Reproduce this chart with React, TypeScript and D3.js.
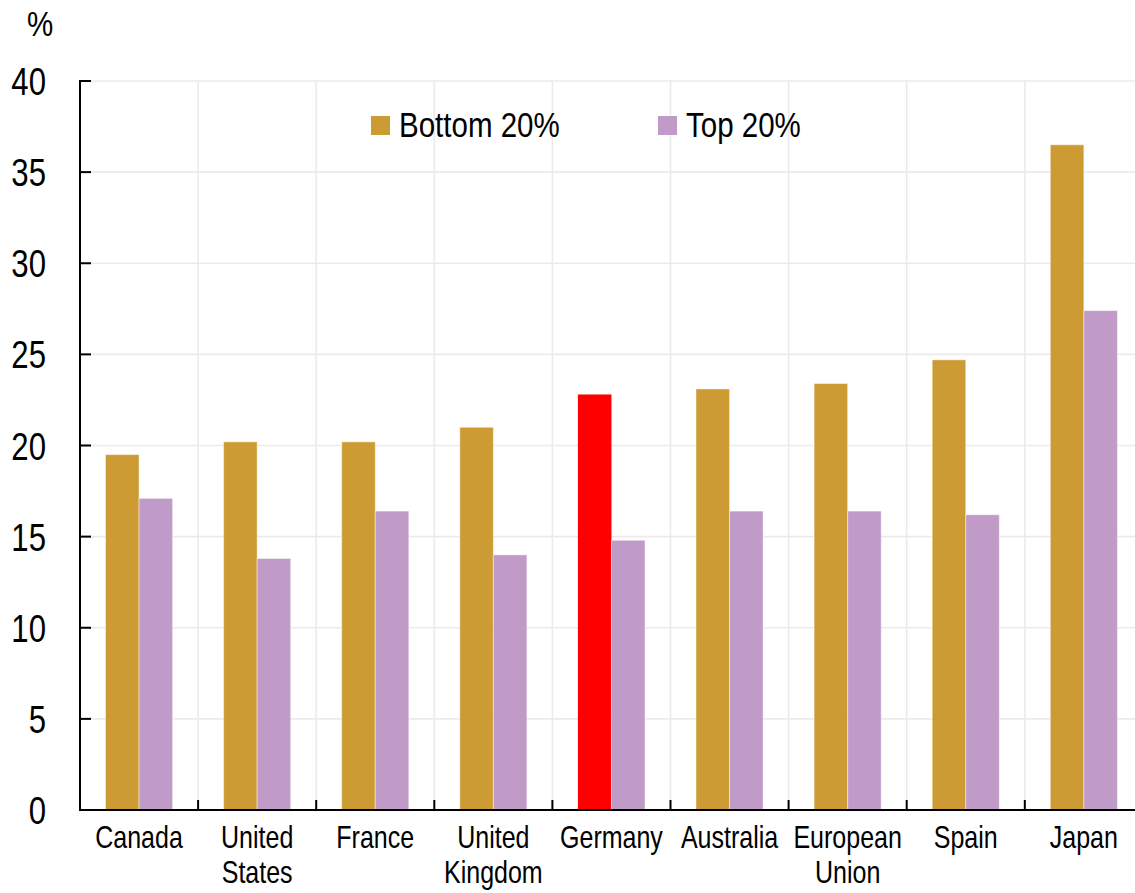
import React from "react";
import * as d3 from "d3";

const categories: string[][] = [
  ["Canada"],
  ["United", "States"],
  ["France"],
  ["United", "Kingdom"],
  ["Germany"],
  ["Australia"],
  ["European", "Union"],
  ["Spain"],
  ["Japan"],
];
const bottom20 = [19.5, 20.2, 20.2, 21.0, 22.8, 23.1, 23.4, 24.7, 36.5];
const top20 = [17.1, 13.8, 16.4, 14.0, 14.8, 16.4, 16.4, 16.2, 27.4];
const seriesNames = ["Bottom 20%", "Top 20%"];
const yTicks = [0, 5, 10, 15, 20, 25, 30, 35, 40];
const highlight = "Germany";

const W = 1135;
const H = 893;
const left = 80;
const topY = 81;
const bottomY = 810;
const step = 118.1;

const GOLD = "#CC9B33";
const PURPLE = "#C09BC8";
const RED = "#FF0000";
const GRID = "#EBEBEB";
const FONT = "'Liberation Sans', Arial, sans-serif";
const NARROW = 0.82;

function NText(props: {
  x: number;
  y: number;
  size: number;
  anchor?: "start" | "middle" | "end";
  lines: string[];
  lineHeight?: number;
}) {
  const { x, y, size, anchor = "start", lines, lineHeight = 35 } = props;
  return (
    <text
      transform={`translate(${x},${y}) scale(${NARROW},1)`}
      textAnchor={anchor}
      fontSize={size}
      fill="#000"
    >
      {lines.map((l, j) => (
        <tspan key={j} x={0} dy={j === 0 ? 0 : lineHeight}>
          {l}
        </tspan>
      ))}
    </text>
  );
}

export default function App() {
  const keys = categories.map((c) => c.join(" "));
  const x = d3
    .scaleBand<string>()
    .domain(keys)
    .range([left, left + step * keys.length])
    .paddingInner(0)
    .paddingOuter(0);
  const x1 = d3
    .scaleBand<string>()
    .domain(seriesNames)
    .range([0, x.bandwidth()])
    .paddingInner(0)
    .paddingOuter(0.76);
  const y = d3.scaleLinear().domain([0, 40]).range([bottomY, topY]);

  const boundaries = d3.range(keys.length + 1).map((i) => left + i * x.step());

  return (
    <svg
      width={W}
      height={H}
      style={{ position: "absolute", left: 0, top: 0, background: "#fff" }}
      fontFamily={FONT}
    >
      {/* gridlines */}
      {yTicks.map((t) => (
        <line key={"gh" + t} x1={left} x2={W} y1={y(t)} y2={y(t)} stroke={GRID} strokeWidth={1.6} />
      ))}
      {boundaries.slice(1).map((b, i) => (
        <line key={"gv" + i} x1={b} x2={b} y1={topY} y2={bottomY} stroke={GRID} strokeWidth={1.6} />
      ))}

      {/* bars */}
      {keys.map((k, i) => (
        <g key={k}>
          <rect
            x={x(k)! + x1(seriesNames[0])!}
            y={y(bottom20[i])}
            width={x1.bandwidth()}
            height={y(0) - y(bottom20[i])}
            fill={k === highlight ? RED : GOLD}
            stroke={k === highlight ? "none" : "rgba(255,255,255,0.45)"}
            strokeWidth={1}
          />
          <rect
            x={x(k)! + x1(seriesNames[1])!}
            y={y(top20[i])}
            width={x1.bandwidth()}
            height={y(0) - y(top20[i])}
            fill={PURPLE}
            stroke="rgba(255,255,255,0.45)"
            strokeWidth={1}
          />
        </g>
      ))}

      {/* axes */}
      <line x1={left} x2={left} y1={topY - 1} y2={bottomY + 1} stroke="#000" strokeWidth={2} />
      <line x1={left - 1} x2={W} y1={bottomY} y2={bottomY} stroke="#000" strokeWidth={2} />
      {yTicks.map((t) => (
        <g key={"yt" + t}>
          <line x1={left} x2={left + 11} y1={y(t)} y2={y(t)} stroke="#000" strokeWidth={2} />
          <NText x={46} y={y(t) + 14} size={38} anchor="end" lines={[String(t)]} />
        </g>
      ))}
      {boundaries.slice(1).map((b, i) => (
        <line key={"xt" + i} x1={b} x2={b} y1={bottomY} y2={bottomY - 10} stroke="#000" strokeWidth={2} />
      ))}

      {/* category labels */}
      {keys.map((k, i) => (
        <NText
          key={"cl" + k}
          x={x(k)! + x.bandwidth() / 2}
          y={848}
          size={30.5}
          anchor="middle"
          lines={categories[i]}
          lineHeight={35}
        />
      ))}

      {/* unit */}
      <NText x={40} y={36} size={36} anchor="middle" lines={["%"]} />

      {/* legend */}
      <rect x={371} y={116} width={19} height={19} fill={GOLD} />
      <NText x={399} y={137} size={36} lines={[seriesNames[0]]} />
      <rect x={658} y={116} width={19} height={19} fill={PURPLE} />
      <NText x={686} y={137} size={36} lines={[seriesNames[1]]} />
    </svg>
  );
}
